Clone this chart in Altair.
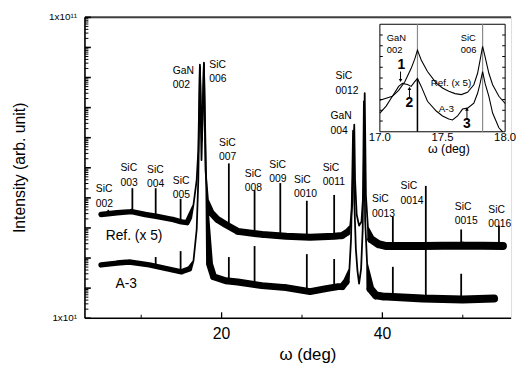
import altair as alt
import pandas as pd

W, H = 432, 305
PX_PER_DEG = 8.15
X_DOMAIN = [3.0, 3.0 + W / PX_PER_DEG]
Y_DOMAIN = [1e1, 1e11]

# ---------------- main scan: Ref. (x 5) ----------------
ref_omega = [5.0, 7.0, 8.8, 10.5, 12.0, 14.0, 15.0, 15.7, 16.0, 16.5, 16.9, 17.1, 17.3, 17.5,
             17.8, 18.0, 18.3, 18.7, 19.5, 20.5, 22.0, 25.0, 28.0, 31.0, 34.0, 35.0, 35.6, 36.0,
             36.25, 36.4, 36.5, 36.6, 36.8, 37.1, 37.4, 37.65, 37.8, 37.95, 38.2, 38.6, 39.5,
             40.5, 45.0, 50.0, 55.0]
ref_int = [2.8e4, 3.2e4, 3.5e4, 2.8e4, 2.4e4, 1.9e4, 1.6e4, 1.5e4, 2.2e4, 5.9e4, 3.9e5, 3.7e6,
           2.7e9, 1.8e6, 3.1e9, 8.3e5, 8.6e4, 3.2e4, 1.9e4, 1.3e4, 7.7e3, 6.1e3, 5.3e3, 4.9e3,
           5.3e3, 5.6e3, 7.1e3, 1.2e4, 5.9e4, 3.8e6, 2.7e7, 3.9e5, 2.8e4, 1.2e4, 1.6e4, 1.8e5,
           3.0e8, 1.2e5, 1.05e4, 4.2e3, 2.9e3, 2.5e3, 2.5e3, 2.6e3, 2.5e3]

# ---------------- main scan: A-3 ----------------
a3_omega = [5.0, 7.0, 8.5, 11.0, 13.0, 15.0, 16.0, 16.5, 16.9, 17.1, 17.3, 17.55, 17.8, 18.1,
            18.5, 19.0, 20.5, 22.0, 25.0, 28.0, 31.0, 33.0, 34.5, 35.0, 35.5, 35.9, 36.1, 36.25,
            36.35, 36.5, 36.7, 36.9, 37.1, 37.35, 37.55, 37.7, 37.85, 38.1, 38.5, 39.2, 40.0,
            45.0, 50.0, 53.9]
a3_int = [590, 680, 740, 590, 450, 348, 436, 800, 8.9e3, 3.9e5, 2.3e9, 8.0e6, 2.9e9, 1.8e5,
          635, 238, 176, 160, 121, 104, 77, 96, 112, 112, 163, 436, 4.2e3, 3.9e5, 1.7e7, 8.6e4,
          2.0e3, 375, 140, 436, 8.9e3, 1.6e8, 1.9e4, 635, 96, 57, 53, 45, 42, 45]

# ---------------- sharp SiC reflections ----------------
ref_spike_omega = [5.9, 8.9, 11.8, 14.9, 20.9, 24.1, 27.3, 30.6, 34.0, 41.3, 45.4, 49.8, 54.5]
ref_spike_top = [4.0e4, 2.1e5, 2.1e5, 9.3e4, 1.4e6, 1.8e5, 3.1e5, 8.0e4, 1.25e5, 2.4e4, 2.5e5,
                 8.9e3, 1.2e4]
ref_spike_base = [2.8e4, 3.5e4, 2.5e4, 1.7e4, 1.2e4, 6.5e3, 5.4e3, 4.9e3, 5.2e3, 2.5e3, 2.5e3,
                  2.5e3, 2.5e3]

a3_spike_omega = [11.8, 14.9, 20.9, 24.1, 30.6, 34.0, 41.3, 45.4, 49.8]
a3_spike_top = [1.08e3, 1.7e3, 1.08e3, 2.5e3, 1.35e3, 930, 510, 2.9e3, 300]
a3_spike_base = [560, 350, 170, 125, 80, 100, 45, 45, 45]

# ---------------- peak labels ----------------
peak_labels = ["SiC\n002", "SiC\n003", "SiC\n004", "SiC\n005", "SiC\n007", "SiC\n008",
               "SiC\n009", "SiC\n0010", "SiC\n0011", "SiC\n0013", "SiC\n0014", "SiC\n0015",
               "SiC\n0016", "GaN\n002", "SiC\n006", "GaN\n004", "SiC\n0012"]
peak_label_omega = [4.35, 7.42, 10.73, 13.92, 19.69, 22.88, 25.94, 29.01, 32.57, 38.71, 42.26,
                    49.01, 53.18, 13.92, 18.46, 33.55, 34.17]
peak_label_int = [1.9e5, 9.6e5, 8.3e5, 3.75e5, 6.9e6, 6.1e5, 1.25e6, 3.9e5, 1.0e6, 8.9e4,
                  2.4e5, 4.9e4, 4.0e4, 1.7e9, 2.7e9, 5.1e7, 1.1e9]

series_labels = ["Ref. (x 5)", "A-3"]
series_label_omega = [5.58, 6.80]
series_label_int = [5.3e3, 141]

# ---------------- axes text ----------------
x_tick_major = [20, 40]
x_tick_minor = [10, 30, 50]
x_tick_labels = ["20", "40"]
y_label_vals = [1e1, 1e11]
y_labels = ["1x10¹", "1x10¹¹"]
x_title = "ω (deg)"
y_title = "Intensity (arb. unit)"

# ---------------- inset (17.0 - 18.0 deg, arbitrary log units) ----------------
inset_ref_omega = [17.00, 17.05, 17.10, 17.15, 17.20, 17.25, 17.28, 17.30, 17.33, 17.38, 17.45,
                   17.50, 17.55, 17.60, 17.65, 17.70, 17.75, 17.78, 17.80, 17.82, 17.84, 17.87,
                   17.90, 17.95, 18.00]
inset_ref_val = [29.4, 31.2, 33.0, 38.5, 46.8, 59.0, 68.2, 75.9, 66.7, 56.0, 45.3, 40.7, 37.6,
                 35.5, 34.6, 36.7, 43.7, 54.4, 66.7, 79.5, 69.7, 54.4, 43.7, 33.0, 26.3]
inset_a3_omega = [17.00, 17.05, 17.10, 17.15, 17.18, 17.22, 17.25, 17.28, 17.30, 17.33, 17.38,
                  17.45, 17.50, 17.55, 17.58, 17.62, 17.66, 17.70, 17.75, 17.78, 17.80, 17.82,
                  17.84, 17.87, 17.90, 17.95, 17.98]
inset_a3_val = [17.4, 23.9, 33.0, 42.2, 45.0, 44.0, 42.2, 46.8, 49.5, 42.2, 28.4, 19.3, 14.7,
                11.9, 11.0, 14.7, 21.1, 22.0, 26.6, 35.8, 45.0, 56.0, 45.0, 33.0, 17.4, 3.7, 0.0]
inset_marker_omega = [17.30, 17.82]
inset_labels = ["GaN\n002", "SiC\n006"]
inset_label_omega = [17.055, 17.646]
inset_label_val = [87.2, 87.2]
inset_notes = ["Ref. (x 5)", "A-3"]
inset_note_omega = [17.567, 17.531]
inset_note_val = [45.0, 21.1]
inset_nums = ["1", "2", "3"]
inset_num_omega = [17.171, 17.236, 17.695]
inset_num_val = [62.4, 26.6, 7.3]
arrow_omega = [17.165, 17.236, 17.695]
arrow_from = [56.0, 32.1, 12.8]
arrow_to = [47.7, 40.4, 21.1]
arrow_head = ["triangle-down", "triangle-up", "triangle-up"]
inset_ticks = ["17.0", "17.5", "18.0"]
inset_tick_vals = [17.0, 17.5, 18.0]

FONT = "Liberation Sans"

xs = alt.Scale(domain=X_DOMAIN, nice=False, zero=False)
ys = alt.Scale(type="log", domain=Y_DOMAIN, nice=False)


def X(field="omega"):
    return alt.X(f"{field}:Q", scale=xs, axis=None)


def Y(field="I"):
    return alt.Y(f"{field}:Q", scale=ys, axis=None)


def trace(om, inten, cuts):
    lo, b1, b2, hi = cuts
    df = pd.DataFrame({"omega": om, "I": inten})
    sw_expr = (f"datum.omega <= {lo} ? 5.5 : datum.omega < {b1} ? 1.8 : "
               f"datum.omega <= {b2} ? 7 : datum.omega < {hi} ? 1.8 : 8")
    return (alt.Chart(df)
            .transform_calculate(sw=sw_expr)
            .mark_trail(color="black")
            .encode(x=X(), y=Y(), size=alt.Size("sw:Q", scale=None)))


def spikes(om, top, base):
    df = pd.DataFrame({"omega": om, "top": top, "base": base})
    return alt.Chart(df).mark_rule(color="black", strokeWidth=1.8).encode(
        x=X(), y=Y("top"), y2="base:Q")


one = pd.DataFrame({"a": [0]})
left_line = alt.Chart(one).mark_rule(color="black", strokeWidth=1.6).encode(
    x=alt.value(0), y=alt.value(0), y2=alt.value(H))
bottom_line = alt.Chart(one).mark_rule(color="black", strokeWidth=1.6).encode(
    x=alt.value(0), x2=alt.value(W), y=alt.value(H))
top_border = alt.Chart(one).mark_rule(color="#404040", strokeWidth=2).encode(
    x=alt.value(0), x2=alt.value(W), y=alt.value(0))

major_y = [10.0 ** k for k in range(1, 12)]
minor_y = [m * 10.0 ** k for k in range(1, 11) for m in range(2, 10)]
yt_major = alt.Chart(pd.DataFrame({"v": major_y})).mark_rule(color="black", strokeWidth=1.6).encode(
    y=Y("v"), x=alt.value(0), x2=alt.value(6))
yt_minor = alt.Chart(pd.DataFrame({"v": minor_y})).mark_rule(color="black", strokeWidth=1).encode(
    y=Y("v"), x=alt.value(0), x2=alt.value(3.5))
xt_major = alt.Chart(pd.DataFrame({"v": x_tick_major})).mark_rule(color="black", strokeWidth=1.3).encode(
    x=X("v"), y=alt.value(H), y2=alt.value(H - 6))
xt_minor = alt.Chart(pd.DataFrame({"v": x_tick_minor})).mark_rule(color="black", strokeWidth=1).encode(
    x=X("v"), y=alt.value(H), y2=alt.value(H - 3.5))

x_lbl = alt.Chart(pd.DataFrame({"v": x_tick_major, "t": x_tick_labels})).mark_text(
    align="center", baseline="middle", fontSize=16, font=FONT, color="black").encode(
    x=X("v"), y=alt.value(H + 16), text="t:N")
y_lbl = alt.Chart(pd.DataFrame({"v": y_label_vals, "t": y_labels})).mark_text(
    align="right", baseline="middle", fontSize=10, font=FONT, color="black").encode(
    x=alt.value(-8), y=Y("v"), text="t:N")
x_ttl = alt.Chart(pd.DataFrame({"t": [x_title]})).mark_text(
    align="center", baseline="middle", fontSize=17, font=FONT, color="black").encode(
    x=alt.value(226), y=alt.value(H + 37), text="t:N")
y_ttl = alt.Chart(pd.DataFrame({"t": [y_title]})).mark_text(
    align="center", baseline="middle", fontSize=16, font=FONT, color="black", angle=270).encode(
    x=alt.value(-66), y=alt.value(152.5), text="t:N")

lbl_df = pd.DataFrame({"omega": peak_label_omega, "I": peak_label_int, "t": peak_labels})
peak_text = alt.Chart(lbl_df).mark_text(align="left", baseline="middle", fontSize=10.5,
                                        lineBreak="\n", lineHeight=14.5, font=FONT,
                                        color="black").encode(x=X(), y=Y(), text="t:N")
ser_df = pd.DataFrame({"omega": series_label_omega, "I": series_label_int, "t": series_labels})
ser_text = alt.Chart(ser_df).mark_text(align="left", baseline="middle", fontSize=14, font=FONT,
                                       color="black").encode(x=X(), y=Y(), text="t:N")

main = alt.layer(
    trace(ref_omega, ref_int, (16.0, 18.7, 35.6, 38.6)),
    trace(a3_omega, a3_int, (16.0, 18.5, 35.5, 38.5)),
    spikes(ref_spike_omega, ref_spike_top, ref_spike_base),
    spikes(a3_spike_omega, a3_spike_top, a3_spike_base),
    left_line, bottom_line, top_border, yt_major, yt_minor, xt_major, xt_minor,
    x_lbl, y_lbl, x_ttl, y_ttl, peak_text, ser_text,
)

# ---------------- inset ----------------
IX0, IX1, IY0, IY1 = 299, 426, 7, 116
xi = alt.Scale(domain=[17.0, 18.0], range=[IX0, IX1], nice=False, zero=False)
yi = alt.Scale(domain=[0, 100], range=[IY1, IY0], nice=False, zero=False)


def XI(field="omega"):
    return alt.X(f"{field}:Q", scale=xi, axis=None)


def YI(field="v"):
    return alt.Y(f"{field}:Q", scale=yi, axis=None)


frame = alt.Chart(one).mark_rect(fill="white", stroke="black", strokeWidth=1).encode(
    x=alt.value(IX0), x2=alt.value(IX1), y=alt.value(IY0), y2=alt.value(IY1))
gray_lines = alt.Chart(pd.DataFrame({"omega": inset_marker_omega})).mark_rule(
    color="#8a8a8a", strokeWidth=1.2).encode(x=XI(), y=alt.value(IY0), y2=alt.value(IY1))
black_line = alt.Chart(pd.DataFrame({"omega": [17.30], "top": [49.5], "bot": [0.0]})).mark_rule(
    color="black", strokeWidth=1.5).encode(x=XI(), y=YI("top"), y2="bot:Q")
in_ref = alt.Chart(pd.DataFrame({"omega": inset_ref_omega, "v": inset_ref_val})).mark_line(
    color="black", strokeWidth=1.1).encode(x=XI(), y=YI())
in_a3 = alt.Chart(pd.DataFrame({"omega": inset_a3_omega, "v": inset_a3_val})).mark_line(
    color="black", strokeWidth=1.1).encode(x=XI(), y=YI())
tick_l = alt.Chart(pd.DataFrame({"v": list(range(10, 100, 10))})).mark_rule(
    color="black", strokeWidth=1).encode(y=YI(), x=alt.value(IX0), x2=alt.value(IX0 + 3))
tick_r = alt.Chart(pd.DataFrame({"v": list(range(10, 100, 10))})).mark_rule(
    color="black", strokeWidth=1).encode(y=YI(), x=alt.value(IX1 - 3), x2=alt.value(IX1))
in_lbl = alt.Chart(pd.DataFrame({"omega": inset_label_omega, "v": inset_label_val,
                                 "t": inset_labels})).mark_text(
    align="left", baseline="middle", fontSize=9.5, lineBreak="\n", lineHeight=12, font=FONT,
    color="black").encode(x=XI(), y=YI(), text="t:N")
in_note = alt.Chart(pd.DataFrame({"omega": inset_note_omega, "v": inset_note_val,
                                  "t": inset_notes})).mark_text(
    align="center", baseline="middle", fontSize=10, font=FONT, color="black").encode(
    x=XI(), y=YI(), text="t:N")
in_num = alt.Chart(pd.DataFrame({"omega": inset_num_omega, "v": inset_num_val,
                                 "t": inset_nums})).mark_text(
    align="center", baseline="middle", fontSize=14, font=FONT, fontWeight="bold",
    color="black").encode(x=XI(), y=YI(), text="t:N")
arrow_df = pd.DataFrame({"omega": arrow_omega, "v0": arrow_from, "v1": arrow_to,
                         "shape": arrow_head})
arrow_shaft = alt.Chart(arrow_df).mark_rule(color="black", strokeWidth=1).encode(
    x=XI(), y=YI("v0"), y2="v1:Q")
arrow_tip = alt.Chart(arrow_df).mark_point(filled=True, color="black", size=14, opacity=1).encode(
    x=XI(), y=YI("v1"), shape=alt.Shape("shape:N", scale=None))
in_ticks = alt.Chart(pd.DataFrame({"omega": inset_tick_vals, "t": inset_ticks})).mark_text(
    align="center", baseline="middle", fontSize=11.5, font=FONT, color="black").encode(
    x=XI(), y=alt.value(IY1 + 6), text="t:N")
in_title = alt.Chart(pd.DataFrame({"t": ["ω (deg)"]})).mark_text(
    align="center", baseline="middle", fontSize=12.5, font=FONT, color="black").encode(
    x=alt.value(369), y=alt.value(134), text="t:N")

inset = alt.layer(frame, gray_lines, black_line, in_ref, in_a3, tick_l, tick_r, in_lbl, in_note,
                  in_num, arrow_shaft, arrow_tip, in_ticks, in_title)

chart = (
    alt.layer(main, inset)
    .resolve_scale(x="independent", y="independent")
    .properties(width=W, height=H, autosize=alt.AutoSizeParams(type="none"),
                padding={"left": 78, "top": 7, "right": 5, "bottom": 48})
    .configure_view(stroke=None)
    .configure(font=FONT)
)

chart.save("out.html", embed_options={"renderer": "svg", "actions": False})
